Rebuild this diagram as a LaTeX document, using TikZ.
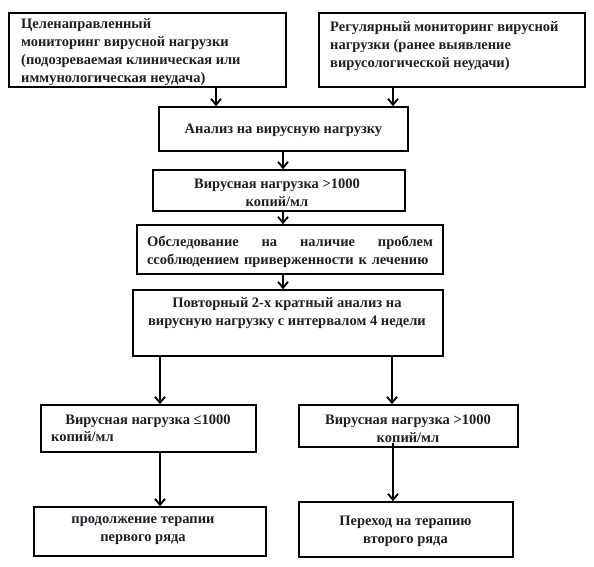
\documentclass[tikz,border=0pt]{standalone}
\usepackage{fontspec}
\setmainfont{Liberation Serif}
\usetikzlibrary{arrows.meta,fit}
\definecolor{ink}{RGB}{30,30,40}
\begin{document}
\begin{tikzpicture}[x=1pt,y=-1pt,
  box/.style={draw=black,line width=1.6pt,inner sep=0pt,fit={#1}},
  txt/.style={inner sep=0pt,text=ink,font=\fontsize{14.5}{18}\selectfont\bfseries},
  arr/.style={draw=black,line width=1.8pt,-{Straight Barb[length=6pt,width=10pt,line width=1.8pt]}}]
\useasboundingbox (0,0) rectangle (594,567);
% boxes
\node[box={(9,13)(286,87)}] (b1) {};
\node[box={(319,13)(585,87)}] (b2) {};
\node[box={(159,107)(408,151)}] (b3) {};
\node[box={(153,170)(405,211)}] (b4) {};
\node[box={(137,225)(443,274)}] (b5) {};
\node[box={(133,290)(443,356)}] (b6) {};
\node[box={(41,405)(256,452)}] (b7) {};
\node[box={(34,507)(266,556)}] (b8) {};
\node[box={(299,405)(518,447)}] (b9) {};
\node[box={(299,502)(513,557)}] (b10) {};
% texts
\node[txt,align=left,anchor=west] (t1) at (21,52) {Целенаправленный\\мониторинг вирусной нагрузки\\(подозреваемая клиническая или\\иммунологическая неудача)};
\node[txt,align=left,anchor=west] (t2) at (330,46) {Регулярный мониторинг вирусной\\нагрузки (ранее выявление\\вирусологической неудачи)};
\node[txt] (t3) at (283.5,130) {Анализ на вирусную нагрузку};
\node[txt,align=center] (t4) at (277,193) {Вирусная нагрузка >1000\\копий/мл};
\node[txt,align=left,text width=286pt] (t5) at (290,252) {Обследование\hfill на\hfill наличие\hfill проблем\\ссоблюдением приверженности к лечению};
\node[txt,align=center] (t6) at (287,313.5) {Повторный 2-х кратный анализ на\\вирусную нагрузку с интервалом 4 недели};
\node[txt] (t7a) at (148,421) {Вирусная нагрузка ≤1000};
\node[txt,anchor=west] (t7b) at (51,437) {копий/мл};
\node[txt,align=center] (t8) at (143,531) {продолжение терапии\\первого ряда};
\node[txt,align=center] (t9) at (408,429) {Вирусная нагрузка >1000\\копий/мл};
\node[txt,align=center] (t10) at (405.5,531) {Переход на терапию\\второго ряда};
% arrow columns
\coordinate (c1) at (216,0);
\coordinate (c2) at (393,0);
\coordinate (c3) at (283,0);
\coordinate (c4) at (160,0);
\coordinate (c5) at (392,0);
\draw[arr] (b1.south -| c1) -- (b3.north -| c1);
\draw[arr] (b2.south -| c2) -- (b3.north -| c2);
\draw[arr] (b3.south -| c3) -- (b4.north -| c3);
\draw[arr] (b4.south -| c3) -- (b5.north -| c3);
\draw[arr] (b5.south -| c3) -- (b6.north -| c3);
\draw[arr] (b6.south -| c4) -- (b7.north -| c4);
\draw[arr] (b6.south -| c5) -- (b9.north -| c5);
\draw[arr] (b7.south -| c4) -- (b8.north -| c4);
\draw[arr] ([yshift=5pt]b9.south -| c2) -- (b10.north -| c2);
\end{tikzpicture}
\end{document}
